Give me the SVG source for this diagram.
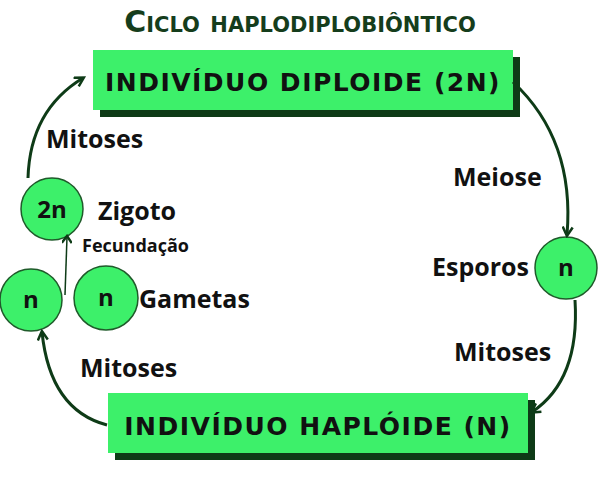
<svg xmlns="http://www.w3.org/2000/svg" width="600" height="502" viewBox="0 0 600 502">
<style>
.t{font-family:"DejaVu Sans",sans-serif;font-weight:bold;fill:#111}
.lbl{font-family:"Open Sans","Liberation Sans",sans-serif;font-weight:bold;fill:#111;font-size:25px}
.box{fill:#3df06a}
.sh{fill:#0e3b17}
.c{fill:#3df06a;stroke:#1f5a2a;stroke-width:1.5}
.ct{font-family:"Open Sans","Liberation Sans",sans-serif;font-weight:bold;font-size:24px;fill:#111;text-anchor:middle}
.a{fill:none;stroke:#0e3b17;stroke-width:3}
</style>
<defs><marker id="ah" markerWidth="10" markerHeight="10" refX="7" refY="5" orient="auto" markerUnits="userSpaceOnUse" viewBox="0 0 10 10"><path d="M1,0 L8,5 L1,10" fill="none" stroke="#0e3b17" stroke-width="2.5"/></marker>
<marker id="ah2" markerWidth="12" markerHeight="12" refX="9" refY="6" orient="auto" markerUnits="userSpaceOnUse" viewBox="0 0 12 12"><path d="M1,1 L10,6 L1,11" fill="none" stroke="#0e3b17" stroke-width="2.5"/></marker></defs>
<rect width="600" height="502" fill="#fff"/>
<text x="300" y="32" text-anchor="middle" style="font-family:'DejaVu Sans',sans-serif;font-weight:bold;font-size:30px;fill:#153d1c;font-variant:small-caps">Ciclo haplodiplobiôntico</text>
<g id="diploide"><rect class="sh" x="100" y="57" width="420" height="60"/><rect class="box" x="93" y="50" width="420" height="60"/><text class="t" x="303" y="91" text-anchor="middle" font-size="25" letter-spacing="1.5">INDIVÍDUO DIPLOIDE (2N)</text></g>
<g id="haploide"><rect class="sh" x="115" y="400" width="420" height="60"/><rect class="box" x="108" y="393" width="420" height="60"/><text class="t" x="318" y="435" text-anchor="middle" font-size="25" letter-spacing="1.5">INDIVÍDUO HAPLÓIDE (N)</text></g>
<g id="zigoto"><circle class="c" cx="52" cy="209" r="31"/><text class="ct" x="52" y="218">2n</text><text class="lbl" x="98" y="220" font-size="27">Zigoto</text></g>
<g id="gameta1"><circle class="c" cx="31" cy="300" r="31"/><text class="ct" x="31" y="308">n</text></g>
<g id="gameta2"><circle class="c" cx="106" cy="298" r="32"/><text class="ct" x="106" y="306">n</text><text class="lbl" x="139" y="308" font-size="26">Gametas</text></g>
<g id="esporos"><circle class="c" cx="566" cy="268" r="31"/><text class="ct" x="566" y="276">n</text><text class="lbl" x="432" y="276">Esporos</text></g>
<g id="connectors">
<path class="a" d="M28,178 Q30,110 83,78" marker-end="url(#ah2)"/>
<path class="a" d="M513,82 Q575,140 567,235" marker-end="url(#ah2)"/>
<path class="a" d="M575,300 Q580,380 532,412" marker-end="url(#ah2)"/>
<path class="a" d="M107,425 Q50,410 42,332" marker-end="url(#ah2)"/>
<path d="M65,295 L67,237" fill="none" stroke="#0e3b17" stroke-width="1.5" marker-end="url(#ah)"/>
</g>
<text class="lbl" x="46" y="148">Mitoses</text>
<text class="lbl" x="453" y="186" font-size="29">Meiose</text>
<text class="lbl" x="454" y="361">Mitoses</text>
<text class="lbl" x="80" y="377">Mitoses</text>
<text x="82" y="252" style="font-family:'Open Sans','Liberation Sans',sans-serif;font-weight:bold;font-size:18px;fill:#111">Fecundação</text>
</svg>
